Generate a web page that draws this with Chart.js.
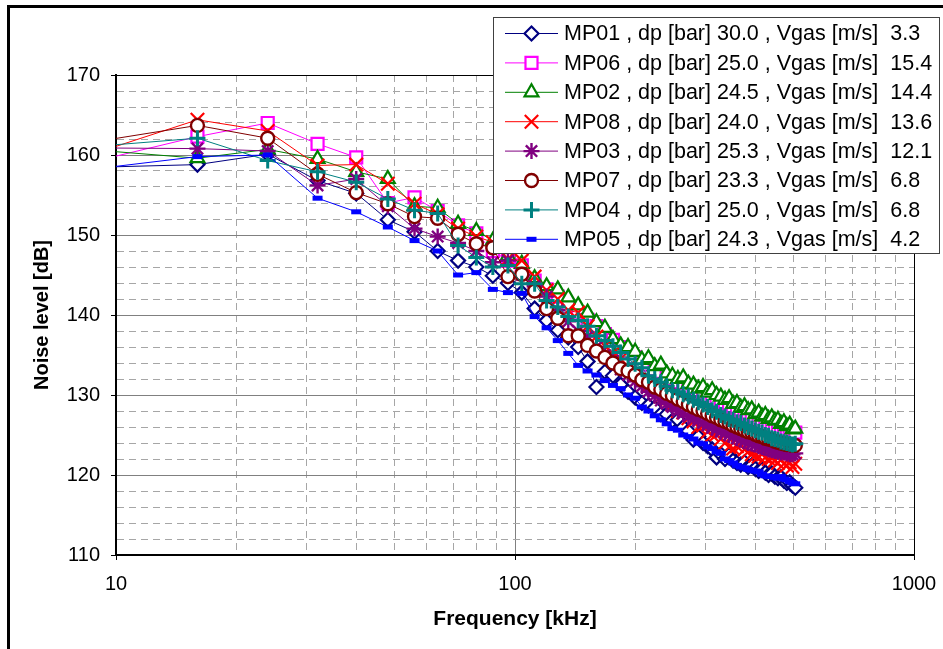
<!DOCTYPE html>
<html>
<head>
<meta charset="utf-8">
<script src="https://cdn.jsdelivr.net/npm/chart.js@4/dist/chart.umd.min.js"></script>
<style>
  html, body { margin: 0; padding: 0; background: #fff; }
  canvas { display: block; }
</style>
</head>
<body>
<canvas id="noiseChart" width="943" height="649"></canvas>
<script>
// frequency points in kHz (the 8 kHz point sits left of the axis and gets clipped)
const frequencies = [
  8, 16, 24, 32, 40, 48, 56, 64,
  72, 80, 88, 96, 104, 112, 120, 128,
  136, 144, 152, 160, 168, 176, 184, 192,
  200, 208, 216, 224, 232, 240, 248, 256,
  264, 272, 280, 288, 296, 304, 312, 320,
  328, 336, 344, 352, 360, 368, 376, 384,
  392, 400, 408, 416, 424, 432, 440, 448,
  456, 464, 472, 480, 488, 496, 504
];

// noise level in dB
const mp01 = [
  158.4, 158.8, 160.1, 156.8, 155.2, 151.9, 150.4, 148.0,
  146.8, 146.0, 144.9, 144.0, 142.8, 140.8, 139.3, 138.1,
  137.2, 136.0, 134.2, 131.0, 132.9, 132.4, 131.3, 130.4,
  129.7, 129.0, 128.7, 128.4, 127.6, 127.6, 126.8, 126.9,
  126.0, 125.5, 124.4, 124.8, 124.0, 123.6, 123.2, 122.2,
  122.6, 122.0, 122.5, 121.8, 121.5, 121.3, 121.6, 121.0,
  121.2, 120.8, 120.5, 120.7, 120.3, 120.0, 120.2, 119.8,
  119.6, 119.7, 119.3, 119.0, 119.1, 118.7, 118.4
];
const mp06 = [
  158.7, 162.3, 164.0, 161.4, 159.7, 154.0, 154.7, 153.0,
  151.2, 150.2, 148.0, 146.8, 146.2, 144.3, 143.2, 142.3,
  141.0, 140.2, 139.4, 138.6, 137.6, 136.9, 136.0, 135.4,
  134.7, 134.1, 133.8, 133.2, 132.9, 132.3, 132.0, 131.6,
  131.5, 130.9, 130.6, 130.4, 130.0, 129.6, 129.5, 129.1,
  128.9, 128.6, 128.5, 128.1, 127.9, 127.8, 127.5, 127.3,
  127.2, 126.9, 126.8, 126.6, 126.5, 126.3, 126.1, 126.0,
  125.9, 125.7, 125.7, 125.5, 125.4, 125.3, 125.3
];
const mp02 = [
  160.8, 159.6, 160.7, 159.5, 157.9, 157.0, 153.6, 153.4,
  151.4, 150.5, 149.3, 147.4, 146.4, 144.6, 143.6, 143.2,
  142.2, 141.2, 140.3, 139.1, 138.4, 137.0, 136.2, 136.0,
  135.4, 134.4, 134.6, 133.6, 133.8, 132.7, 132.4, 132.0,
  132.2, 131.4, 131.3, 130.8, 131.0, 130.3, 130.6, 130.0,
  129.8, 129.4, 129.6, 128.9, 129.0, 128.4, 128.6, 128.1,
  128.2, 127.6, 127.8, 127.3, 127.5, 127.0, 127.2, 126.8,
  126.9, 126.4, 126.6, 126.1, 126.3, 125.7, 125.8
];
const mp08 = [
  159.5, 164.4, 163.0, 158.7, 158.8, 156.4, 153.9, 152.6,
  150.8, 149.8, 149.1, 147.0, 146.8, 144.8, 143.1, 142.0,
  140.6, 140.3, 138.6, 137.3, 136.1, 135.2, 134.5, 133.4,
  132.6, 132.0, 131.2, 130.6, 129.8, 129.4, 128.8, 128.0,
  127.8, 127.1, 126.7, 126.0, 126.2, 125.4, 125.0, 125.1,
  124.5, 124.0, 123.5, 123.3, 123.6, 123.7, 123.2, 122.9,
  122.6, 122.4, 122.3, 122.6, 122.2, 122.0, 122.1, 121.8,
  121.5, 121.9, 121.4, 121.2, 121.6, 121.0, 121.4
];
const mp03 = [
  160.9, 160.8, 160.5, 156.2, 157.0, 153.6, 150.8, 149.8,
  149.0, 148.0, 146.6, 146.8, 145.0, 143.6, 142.3, 140.6,
  139.2, 138.0, 137.3, 136.0, 135.0, 134.3, 133.2, 132.5,
  131.7, 131.1, 130.4, 129.9, 129.3, 128.9, 128.5, 128.0,
  127.7, 127.3, 127.0, 126.8, 126.5, 126.2, 125.9, 125.7,
  125.4, 125.2, 125.0, 124.8, 124.6, 124.4, 124.2, 124.0,
  123.9, 123.8, 123.6, 123.5, 123.4, 123.2, 123.1, 123.0,
  122.9, 122.8, 122.8, 122.7, 122.6, 122.6, 122.7
];
const mp07 = [
  161.3, 163.7, 162.1, 157.6, 155.3, 153.9, 152.3, 152.1,
  150.1, 148.9, 148.4, 144.8, 145.1, 143.0, 140.8, 139.6,
  137.4, 137.4, 136.2, 135.5, 134.7, 134.0, 133.3, 133.0,
  132.5, 131.9, 131.6, 131.0, 130.7, 130.2, 129.9, 129.5,
  129.2, 128.8, 128.5, 128.2, 128.0, 127.7, 127.4, 127.2,
  126.9, 126.7, 126.5, 126.2, 126.0, 125.8, 125.6, 125.4,
  125.3, 125.1, 124.9, 124.8, 124.6, 124.5, 124.4, 124.2,
  124.1, 124.0, 123.9, 123.8, 123.8, 123.7, 123.7
];
const mp04 = [
  160.9, 162.1, 159.3, 157.9, 156.6, 154.5, 153.1, 152.7,
  148.7, 147.2, 146.0, 146.2, 143.9, 143.9, 141.8, 141.0,
  139.8, 139.3, 138.6, 137.4, 136.8, 136.1, 135.3, 134.5,
  133.9, 133.4, 132.4, 132.0, 131.6, 131.1, 130.6, 130.4,
  130.1, 129.8, 129.4, 129.1, 128.8, 128.5, 128.1, 127.9,
  127.5, 127.3, 127.0, 126.9, 126.6, 126.5, 126.2, 126.0,
  125.8, 125.6, 125.4, 125.3, 125.0, 124.9, 124.6, 124.5,
  124.4, 124.2, 124.1, 124.0, 123.9, 123.8, 123.9
];
const mp05 = [
  158.0, 159.8, 160.0, 154.6, 152.9, 151.0, 149.3, 148.0,
  145.0, 145.3, 143.2, 142.8, 142.7, 139.8, 138.4, 136.8,
  135.2, 133.7, 133.0, 132.5, 131.8, 131.2, 130.8, 130.0,
  129.6, 128.5, 128.0, 127.4, 126.9, 126.4, 125.8, 125.6,
  125.0, 124.8, 124.5, 124.0, 123.9, 123.5, 123.3, 122.9,
  122.7, 122.0, 121.8, 121.5, 121.2, 121.0, 120.9, 120.7,
  120.6, 120.5, 120.4, 120.1, 119.9, 119.8, 119.8, 119.7,
  119.6, 119.8, 119.5, 119.4, 119.2, 119.0, 118.9
];

const seriesLabels = [
  'MP01 , dp [bar] 30.0 , Vgas [m/s]  3.3',
  'MP06 , dp [bar] 25.0 , Vgas [m/s]  15.4',
  'MP02 , dp [bar] 24.5 , Vgas [m/s]  14.4',
  'MP08 , dp [bar] 24.0 , Vgas [m/s]  13.6',
  'MP03 , dp [bar] 25.3 , Vgas [m/s]  12.1',
  'MP07 , dp [bar] 23.3 , Vgas [m/s]  6.8',
  'MP04 , dp [bar] 25.0 , Vgas [m/s]  6.8',
  'MP05 , dp [bar] 24.3 , Vgas [m/s]  4.2'
];
const seriesData = [mp01, mp06, mp02, mp08, mp03, mp07, mp04, mp05];

const yTickValues = [110, 112, 114, 116, 118, 120, 122, 124, 126, 128, 130, 132, 134, 136, 138, 140,
  142, 144, 146, 148, 150, 152, 154, 156, 158, 160, 162, 164, 166, 168, 170];
const xTickValues = [10, 20, 30, 40, 50, 60, 70, 80, 90, 100, 200, 300, 400, 500, 600, 700, 800, 900, 1000];
const xLabelValues = [10, 100, 1000];

// styles
const colors = ['#000080', '#FF00FF', '#008000', '#FF0000', '#800080', '#800000', '#008080', '#0000FF'];
const markers = ['rectRot', 'rect', 'triangle', 'crossRot', 'star', 'circle', 'cross', 'line'];
const markerSize = [7, 8.5, 8, 9.5, 8, 6.5, 8, 5];
const markerWidth = [2.2, 2.2, 2.2, 2.2, 2.4, 2.4, 3, 5];

const tickFont = { family: '"Liberation Sans", Arial, sans-serif', size: 20 };
const titleFont = { family: '"Liberation Sans", Arial, sans-serif', size: 21, weight: 'bold' };

const datasets = seriesData.map((vals, i) => ({
  label: seriesLabels[i],
  data: vals.map((v, j) => ({ x: frequencies[j], y: v })),
  borderColor: colors[i],
  borderWidth: 1,
  pointStyle: markers[i],
  pointRadius: markerSize[i],
  pointBorderWidth: markerWidth[i],
  pointBorderColor: colors[i],
  pointBackgroundColor: '#fff',
  order: seriesData.length - i  // later series on top, like the original
}));

const framePlugin = {
  id: 'frame',
  beforeDraw(chart) {
    const c = chart.ctx;
    c.save();
    c.fillStyle = '#fff';
    c.fillRect(0, 0, chart.width, chart.height);
    c.strokeStyle = '#000';
    c.lineWidth = 3;
    c.strokeRect(8.5, 6.5, 1000, 1000);
    c.restore();
  }
};

const boxLegend = {
  id: 'boxLegend',
  afterDraw(chart) {
    const c = chart.ctx;
    c.save();
    c.fillStyle = '#fff';
    c.fillRect(493, 17, 447, 237);
    c.strokeStyle = '#404040';
    c.lineWidth = 1;
    c.strokeRect(493.5, 17.5, 446, 236);
    c.font = '21.5px "Liberation Sans", Arial, sans-serif';
    c.textBaseline = 'middle';
    seriesLabels.forEach((label, i) => {
      const y = 33.5 + i * 29.4;
      c.strokeStyle = colors[i];
      c.lineWidth = 1;
      c.beginPath();
      c.moveTo(505, y);
      c.lineTo(558, y);
      c.stroke();
      if (Chart.helpers && Chart.helpers.drawPoint) {
        c.lineWidth = markerWidth[i];
        c.fillStyle = '#fff';
        c.strokeStyle = colors[i];
        Chart.helpers.drawPoint(c, { pointStyle: markers[i], radius: markerSize[i], borderWidth: markerWidth[i], rotation: 0 }, 531.5, y);
      }
      c.fillStyle = '#000';
      c.fillText(label, 564, y + 1);
    });
    c.restore();
  }
};

const ctx = document.getElementById('noiseChart').getContext('2d');
const noiseChart = new Chart(ctx, {
  type: 'line',
  data: { datasets: datasets },
  options: {
    responsive: false,
    animation: false,
    layout: { padding: { left: 0, top: 75, right: 29, bottom: 0 } },
    plugins: {
      legend: { display: false },
      tooltip: { enabled: false }
    },
    elements: { line: { tension: 0 } },
    scales: {
      x: {
        type: 'logarithmic',
        min: 10,
        max: 1000,
        afterFit: s => { s.height = 94; s.paddingLeft = 0; s.paddingRight = 0; },
        afterBuildTicks: s => { s.ticks = xTickValues.map(v => ({ value: v })); },
        ticks: {
          autoSkip: false,
          maxRotation: 0,
          padding: 12,
          color: '#000',
          font: tickFont,
          callback: v => xLabelValues.includes(v) ? String(v) : ''
        },
        grid: {
          lineWidth: 1,
          tickLength: 5,
          color: c => {
            const v = c.tick ? c.tick.value : 0;
            if (v === 1000) return '#000';
            if (v === 100) return '#808080';
            return '#a6a6a6';
          },
          tickColor: c => (c.tick && xLabelValues.includes(c.tick.value)) ? '#000' : 'rgba(0,0,0,0)'
        },
        border: {
          color: '#000',
          width: 2,
          dash: c => (c.tick && !xLabelValues.includes(c.tick.value)) ? [7, 5] : []
        },
        title: {
          display: true,
          text: 'Frequency [kHz]',
          color: '#000',
          font: titleFont,
          padding: { top: 0, bottom: 17 }
        }
      },
      y: {
        type: 'linear',
        min: 110,
        max: 170,
        afterFit: s => { s.width = 116; s.paddingTop = 0; s.paddingBottom = 0; },
        afterBuildTicks: s => { s.ticks = yTickValues.map(v => ({ value: v })); },
        ticks: {
          autoSkip: false,
          padding: 11,
          color: '#000',
          font: tickFont,
          callback: v => v % 10 === 0 ? String(v) : ''
        },
        grid: {
          lineWidth: 1,
          tickLength: 5,
          color: c => {
            const v = c.tick ? c.tick.value : 0;
            if (v === 170) return '#000';
            if (v % 10 === 0) return '#808080';
            return '#a6a6a6';
          },
          tickColor: c => (c.tick && c.tick.value % 10 === 0) ? '#000' : 'rgba(0,0,0,0)'
        },
        border: {
          color: '#000',
          width: 2,
          dash: c => (c.tick && c.tick.value % 10 !== 0) ? [7, 5] : []
        },
        title: {
          display: true,
          text: 'Noise level [dB]',
          color: '#000',
          font: { family: '"Liberation Sans", Arial, sans-serif', size: 20, weight: 'bold' },
          padding: { top: 30, bottom: 0 }
        }
      }
    }
  },
  plugins: [framePlugin, boxLegend]
});
</script>
</body>
</html>
